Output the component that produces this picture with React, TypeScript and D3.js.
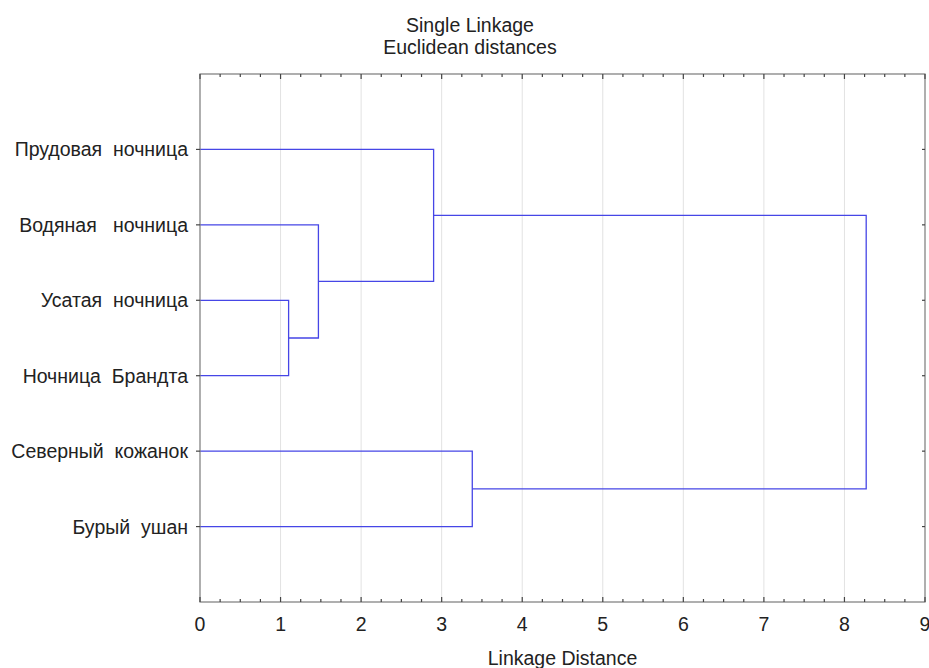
import * as d3 from "d3";
import React, { useRef, useEffect } from "react";

const width = 929;
const height = 668;
const margin = { top: 74, right: 4, bottom: 66, left: 200 };

// leaf labels, top to bottom
const leaves = [
  "Прудовая  ночница",
  "Водяная   ночница",
  "Усатая  ночница",
  "Ночница  Брандта",
  "Северный  кожанок",
  "Бурый  ушан",
];

// linkage steps: [left node, right node, distance]; new nodes get ids 6, 7, ...
const mergeLeft = [2, 1, 0, 4, 8];
const mergeRight = [3, 6, 7, 5, 9];
const mergeDist = [1.1, 1.47, 2.9, 3.38, 8.27];

const xTicks = [0, 1, 2, 3, 4, 5, 6, 7, 8, 9];

const lineColor = "#4646e6";
const fontSize = 19.5;

const App = () => {
  const svgRef = useRef<SVGSVGElement>(null);

  const xScale = d3
    .scaleLinear()
    .domain([0, 9])
    .range([margin.left, width - margin.right]);
  const yScale = d3
    .scalePoint()
    .domain(leaves)
    .range([margin.top, height - margin.bottom])
    .padding(1);

  useEffect(() => {
    const svg = d3.select(svgRef.current);
    svg.selectAll("*").remove();

    const x0 = margin.left;
    const x1 = width - margin.right;
    const y0 = margin.top;
    const y1 = height - margin.bottom;

    // gridlines
    svg
      .append("g")
      .selectAll("line")
      .data(xTicks.slice(1, -1))
      .join("line")
      .attr("x1", (d) => xScale(d))
      .attr("x2", (d) => xScale(d))
      .attr("y1", y0)
      .attr("y2", y1)
      .attr("stroke", "#e2e2e2")
      .attr("stroke-width", 1);

    // node positions: leaves first, then merges
    const nodes: { x: number; y: number }[] = leaves.map((l) => ({
      x: xScale(0),
      y: yScale(l) as number,
    }));
    const g = svg.append("g").attr("fill", "none").attr("stroke", lineColor).attr("stroke-width", 1.3);
    mergeDist.forEach((dist, i) => {
      const a = nodes[mergeLeft[i]];
      const b = nodes[mergeRight[i]];
      const xm = xScale(dist);
      g.append("path").attr("d", `M${a.x},${a.y}H${xm}V${b.y}H${b.x}`);
      nodes.push({ x: xm, y: (a.y + b.y) / 2 });
    });

    // frame
    svg
      .append("rect")
      .attr("x", x0)
      .attr("y", y0)
      .attr("width", x1 - x0)
      .attr("height", y1 - y0)
      .attr("fill", "none")
      .attr("stroke", "#7a7a7a")
      .attr("stroke-width", 1.2);

    // minor/major ticks top and bottom, pointing inward
    const minor = d3.range(0, 9.001, 0.25);
    const tk = svg.append("g").attr("stroke", "#444").attr("stroke-width", 1.2);
    minor.forEach((v) => {
      const major = Math.abs(v - Math.round(v)) < 1e-6;
      const len = major ? 5 : 3;
      tk.append("line").attr("x1", xScale(v)).attr("x2", xScale(v)).attr("y1", y1).attr("y2", y1 - len);
      tk.append("line").attr("x1", xScale(v)).attr("x2", xScale(v)).attr("y1", y0).attr("y2", y0 + len);
    });
    leaves.forEach((l) => {
      const y = yScale(l) as number;
      tk.append("line").attr("x1", x0 - 4).attr("x2", x0).attr("y1", y).attr("y2", y);
      tk.append("line").attr("x1", x1 - 3).attr("x2", x1).attr("y1", y).attr("y2", y);
    });

    // x tick labels
    svg
      .append("g")
      .selectAll("text")
      .data(xTicks)
      .join("text")
      .attr("x", (d) => xScale(d))
      .attr("y", y1 + 29)
      .attr("text-anchor", "middle")
      .attr("font-size", fontSize)
      .attr("fill", "#222")
      .text((d) => d);

    // y labels
    svg
      .append("g")
      .selectAll("text")
      .data(leaves)
      .join("text")
      .attr("x", x0 - 12)
      .attr("y", (d) => (yScale(d) as number) + 7)
      .attr("text-anchor", "end")
      .attr("font-size", fontSize)
      .attr("fill", "#222")
      .style("white-space", "pre")
      .text((d) => d);

    // titles
    svg
      .append("text")
      .attr("x", 470)
      .attr("y", 32)
      .attr("text-anchor", "middle")
      .attr("font-size", fontSize)
      .attr("fill", "#222")
      .text("Single Linkage");
    svg
      .append("text")
      .attr("x", 470)
      .attr("y", 54)
      .attr("text-anchor", "middle")
      .attr("font-size", fontSize)
      .attr("fill", "#222")
      .text("Euclidean distances");
    svg
      .append("text")
      .attr("x", (x0 + x1) / 2)
      .attr("y", 665)
      .attr("text-anchor", "middle")
      .attr("font-size", fontSize)
      .attr("fill", "#222")
      .text("Linkage Distance");
  }, []);

  return (
    <div style={{ position: "absolute", left: 0, top: 0, background: "#fff" }}>
      <svg
        ref={svgRef}
        width={width}
        height={height}
        style={{ display: "block", fontFamily: "'Liberation Sans', Arial, sans-serif" }}
      />
    </div>
  );
};

export default App;
